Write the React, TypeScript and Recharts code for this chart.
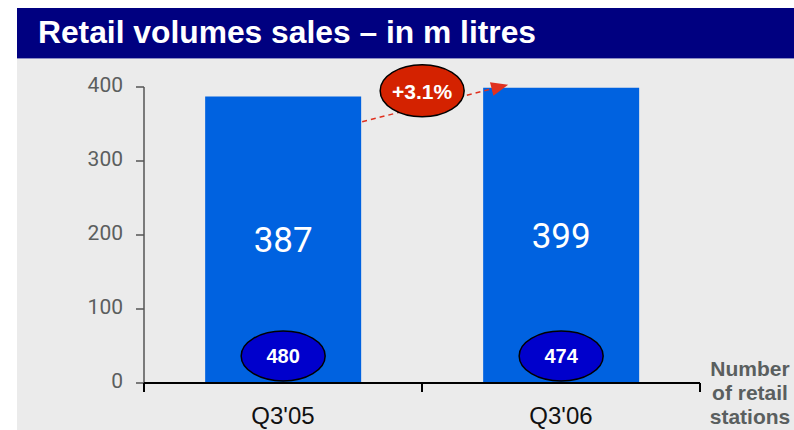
import React from 'react';
import { BarChart, Bar, XAxis, YAxis, LabelList } from 'recharts';

const quarters = ["Q3'05", "Q3'06"];
const volumes = [387, 399];
const stationCounts = [480, 474];
const yTicks = [0, 100, 200, 300, 400];
const growthText = '+3.1%';
const titleText = 'Retail volumes sales \u2013 in m litres';
const sideNote = ['Number', 'of retail', 'stations'];

const data = quarters.map((q, i) => ({ quarter: q, volume: volumes[i], stations: stationCounts[i] }));

const SANS = "'Liberation Sans', Arial, sans-serif";

const YTick = ({ x, y, payload }: any) => (
  <text x={x} y={y + 5} textAnchor="end" fill="#5b5e5e" fontSize={21} fontFamily="Roboto, sans-serif">
    {payload.value}
  </text>
);

const XTick = ({ x, y, payload, index, visibleTicksCount }: any) => {
  const half = payload.offset ?? 139;
  const last = index === (visibleTicksCount ?? quarters.length) - 1;
  return (
    <g>
      <line x1={x - half} x2={x - half} y1={y} y2={y + 9} stroke="#000" strokeWidth={2} />
      {last && <line x1={x + half} x2={x + half} y1={y} y2={y + 9} stroke="#000" strokeWidth={2} />}
      <text x={x} y={y + 41} textAnchor="middle" fill="#111" fontSize={24} fontFamily={SANS}>
        {payload.value}
      </text>
    </g>
  );
};

// blue badge at the foot of each bar with the station count
const StationBadge = (props: any) => {
  const vb = props.viewBox || props;
  const cx = vb.x + vb.width / 2;
  const cy = vb.y + vb.height - 27;
  return (
    <g>
      <ellipse cx={cx} cy={cy} rx={42} ry={25} fill="#0000cc" stroke="#000" strokeWidth={1.5} />
      <text x={cx} y={cy + 7} textAnchor="middle" fill="#fff" fontSize={20} fontWeight="bold" fontFamily={SANS}>
        {props.value}
      </text>
    </g>
  );
};

// growth arrow + red bubble, drawn off the second bar
const GrowthMark = (props: any) => {
  if (props.index !== 1) return null;
  const vb = props.viewBox || props;
  const tipX = vb.x + 25;
  const tipY = vb.y - 3;
  const startX = vb.x - 121;
  const startY = vb.y + 34;
  const dx = tipX - startX;
  const dy = tipY - startY;
  const len = Math.sqrt(dx * dx + dy * dy);
  const ux = dx / len;
  const uy = dy / len;
  const bx = tipX - ux * 17;
  const by = tipY - uy * 17;
  const px = -uy * 7;
  const py = ux * 7;
  const cx = vb.x - 61;
  const cy = vb.y + 3;
  return (
    <g>
      <line x1={startX} y1={startY} x2={bx} y2={by} stroke="#e0301e" strokeWidth={1.5} strokeDasharray="5 4" />
      <polygon points={`${tipX},${tipY} ${bx + px},${by + py} ${bx - px},${by - py}`} fill="#e0301e" />
      <ellipse cx={cx} cy={cy} rx={42} ry={26} fill="#d42200" stroke="#000" strokeWidth={1.5} />
      <text x={cx} y={cy + 8} textAnchor="middle" fill="#fff" fontSize={21} fontWeight="bold" fontFamily={SANS}>
        {growthText}
      </text>
    </g>
  );
};

export default function App() {
  return (
    <div style={{ position: 'absolute', left: 0, top: 0, width: 794, height: 430, background: '#fff', overflow: 'hidden' }}>
      <div style={{ position: 'absolute', left: 17, top: 8, width: 777, height: 50, background: '#000080', borderBottom: '1px solid #8c8cc4' }} />
      <div style={{ position: 'absolute', left: 17, top: 59, width: 777, height: 371, background: '#ebebeb' }} />
      <svg width={794} height={60} style={{ position: 'absolute', left: 0, top: 0 }}>
        <text x={38} y={43} fill="#fff" fontSize={31} fontWeight="bold" fontFamily={SANS} textLength={498} lengthAdjust="spacingAndGlyphs">
          {titleText}
        </text>
      </svg>
      <div style={{ position: 'absolute', left: 0, top: 0 }}>
        <BarChart width={794} height={430} data={data} margin={{ top: 87, right: 94, bottom: 0, left: 0 }} barCategoryGap="22%">
          <YAxis
            domain={[0, 400]}
            ticks={yTicks}
            width={144}
            axisLine={{ stroke: '#555', strokeWidth: 1.5 }}
            tickLine={{ stroke: '#555', strokeWidth: 1.5 }}
            tickSize={8}
            tickMargin={13}
            tick={<YTick />}
          />
          <XAxis
            dataKey="quarter"
            height={47}
            axisLine={{ stroke: '#000', strokeWidth: 2 }}
            tickLine={false}
            tickSize={0}
            tickMargin={0}
            tick={<XTick />}
            interval={0}
          />
          <Bar dataKey="volume" fill="#0062e0" isAnimationActive={false}>
            <LabelList dataKey="volume" position="center" fill="#fff" fontSize={35} fontFamily="Roboto, sans-serif" />
            <LabelList dataKey="stations" content={<StationBadge />} />
            <LabelList dataKey="volume" content={<GrowthMark />} />
          </Bar>
        </BarChart>
      </div>
      <svg width={794} height={430} style={{ position: 'absolute', left: 0, top: 0, pointerEvents: 'none' }}>
        {sideNote.map((line, i) => (
          <text key={line} x={750} y={376 + i * 24} textAnchor="middle" fill="#5a5f5f" fontSize={21} fontWeight="bold" fontFamily={SANS}>
            {line}
          </text>
        ))}
      </svg>
    </div>
  );
}
